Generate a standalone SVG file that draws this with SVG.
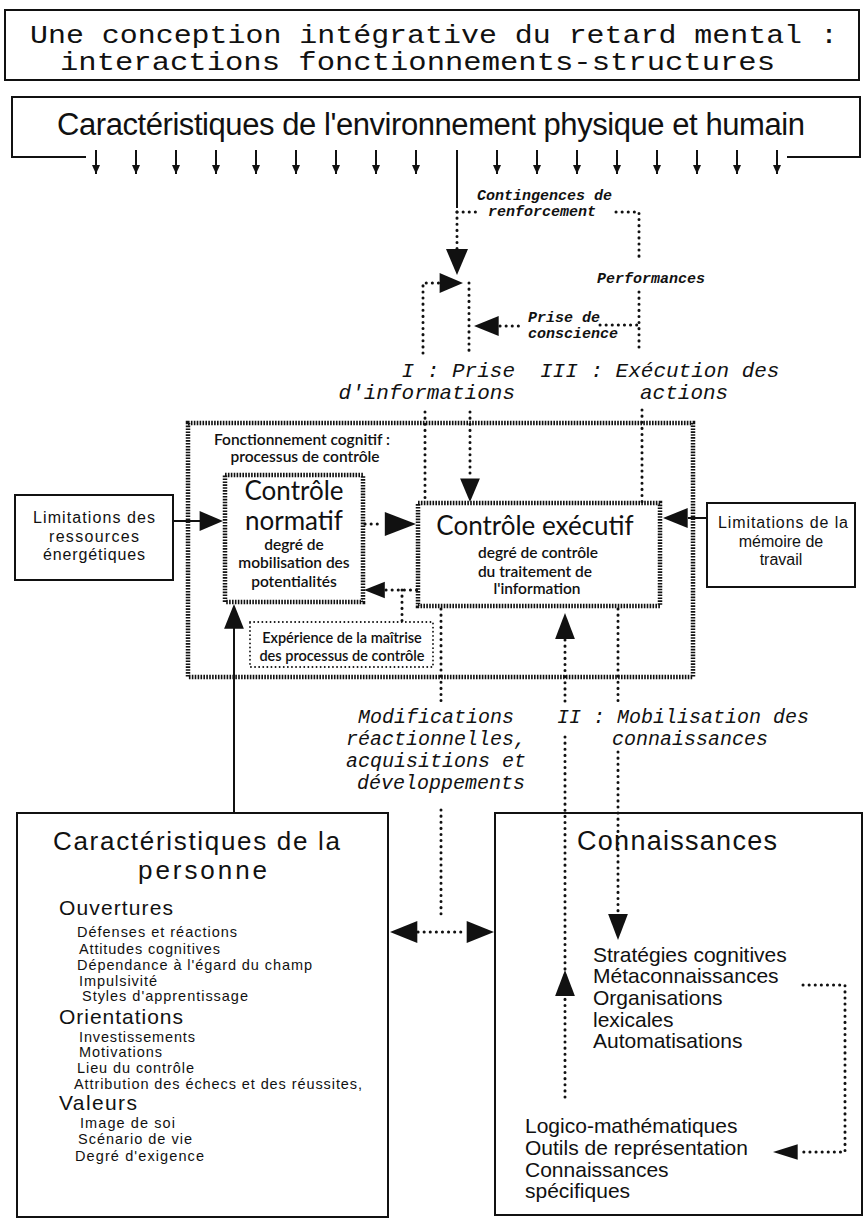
<svg xmlns="http://www.w3.org/2000/svg" xmlns:xlink="http://www.w3.org/1999/xlink" width="866" height="1225" viewBox="0 0 866 1225">
<style>
.box{fill:none;stroke:#111;stroke-width:2}
.hatch{fill:none;stroke:#111;stroke-width:4.5;stroke-dasharray:1.6 1.3}
.dot{fill:none;stroke:#111;stroke-width:3;stroke-linecap:round;stroke-dasharray:0.1 6}
.tdot{fill:none;stroke:#111;stroke-width:1.8;stroke-linecap:round;stroke-dasharray:0.1 4}
.solid{fill:none;stroke:#111;stroke-width:2}
.ah{fill:#111}
.mono{font-family:"Liberation Mono",monospace;fill:#111}
.it{font-style:italic}
.bi{font-style:italic;font-weight:bold;font-size:15px}
.sans{font-family:"Liberation Sans",Arial,sans-serif;fill:#111}
.hum{font-family:Lato,"Open Sans",sans-serif;fill:#111}
.sm{font-size:15.5px;font-weight:600}
.lim{font-size:16px}
.item{font-size:14.5px}
.head{font-size:21px}
</style>
<defs>
<path id="ah" d="M0,0 L-26,-11 L-26,11 Z"/>
<marker id="sa" markerUnits="userSpaceOnUse" markerWidth="10" markerHeight="10" refX="9" refY="4" orient="auto">
<path d="M0,0 L9,4 L0,8 Z" fill="#111"/>
</marker>
</defs>
<rect width="866" height="1225" fill="#fff"/>

<g id="title">
<rect class="box" x="5" y="10" width="854" height="70" stroke-width="1.5"/>
<text class="mono" x="30" y="43" font-size="25" textLength="808" lengthAdjust="spacingAndGlyphs">Une conception intégrative du retard mental :</text>
<text class="mono" x="60" y="70" font-size="25" textLength="715" lengthAdjust="spacingAndGlyphs">interactions fonctionnements-structures</text>
</g>

<g id="environnement">
<path class="box" d="M86 157 H12 V97 H860 V157 H787"/>
<text class="sans" x="57" y="135" font-size="31" textLength="748">Caractéristiques de l'environnement physique et humain</text>
</g>

<g id="controle-box">
<rect class="hatch" x="188" y="423" width="505" height="254"/>
<text class="hum sm" x="302" y="445" text-anchor="middle">Fonctionnement cognitif :</text>
<text class="hum sm" x="305" y="462" text-anchor="middle">processus de contrôle</text>
</g>

<g id="normatif">
<rect class="hatch" x="225" y="475" width="138" height="127"/>
<text class="hum" x="294" y="500" font-size="26" text-anchor="middle">Contrôle</text>
<text class="hum" x="294" y="530" font-size="26" text-anchor="middle">normatif</text>
<text class="hum sm" x="294" y="550" text-anchor="middle">degré de</text>
<text class="hum sm" x="294" y="568" text-anchor="middle">mobilisation des</text>
<text class="hum sm" x="294" y="587" text-anchor="middle">potentialités</text>
</g>

<g id="executif">
<rect class="hatch" x="418" y="503" width="242" height="103"/>
<text class="hum" x="535" y="535" font-size="26" text-anchor="middle">Contrôle exécutif</text>
<text class="hum sm" x="538" y="558" text-anchor="middle">degré de contrôle</text>
<text class="hum sm" x="535" y="577" text-anchor="middle">du traitement de</text>
<text class="hum sm" x="537" y="594" text-anchor="middle">l'information</text>
</g>

<g id="memoire">
<rect class="box" x="707" y="503" width="148" height="84"/>
<text class="sans lim" x="783" y="528" text-anchor="middle" textLength="130">Limitations de la</text>
<text class="sans lim" x="781" y="547" text-anchor="middle">mémoire de</text>
<text class="sans lim" x="781" y="565" text-anchor="middle">travail</text>
</g>

<g id="ressources">
<rect class="box" x="15" y="495" width="158" height="85"/>
<text class="sans lim" x="94" y="523" text-anchor="middle" textLength="122">Limitations des</text>
<text class="sans lim" x="94" y="542" text-anchor="middle" textLength="90">ressources</text>
<text class="sans lim" x="94" y="560" text-anchor="middle" textLength="102">énergétiques</text>
</g>

<g id="experience">
<rect class="tdot" x="250" y="622" width="183" height="45"/>
<text class="hum" x="342" y="643" font-size="14.5" font-weight="600" text-anchor="middle">Expérience de la maîtrise</text>
<text class="hum" x="342" y="661" font-size="14.5" font-weight="600" text-anchor="middle">des processus de contrôle</text>
</g>

<g id="personne">
<rect class="box" x="17" y="813" width="371" height="404"/>
<text class="sans" x="53" y="850" font-size="26" textLength="287">Caractéristiques de la</text>
<text class="sans" x="138" y="879" font-size="26" textLength="129">personne</text>
<text class="sans head" x="59" y="915" textLength="114">Ouvertures</text>
<text class="sans item" x="77" y="937" textLength="160">Défenses et réactions</text>
<text class="sans item" x="79" y="954" textLength="141">Attitudes cognitives</text>
<text class="sans item" x="77" y="970" textLength="235">Dépendance à l'égard du champ</text>
<text class="sans item" x="79" y="986" textLength="78">Impulsivité</text>
<text class="sans item" x="82" y="1001" textLength="166">Styles d'apprentissage</text>
<text class="sans head" x="59" y="1024" textLength="124">Orientations</text>
<text class="sans item" x="79" y="1042" textLength="116">Investissements</text>
<text class="sans item" x="79" y="1057" textLength="83">Motivations</text>
<text class="sans item" x="77" y="1073" textLength="117">Lieu du contrôle</text>
<text class="sans item" x="74" y="1089" textLength="288">Attribution des échecs et des réussites,</text>
<text class="sans head" x="59" y="1110" textLength="78">Valeurs</text>
<text class="sans item" x="80" y="1128" textLength="95">Image de soi</text>
<text class="sans item" x="78" y="1144" textLength="114">Scénario de vie</text>
<text class="sans item" x="75" y="1161" textLength="129">Degré d'exigence</text>
</g>

<g id="connaissances">
<rect class="box" x="495" y="813" width="367" height="402"/>
<text class="sans" x="577" y="850" font-size="27" textLength="200">Connaissances</text>
<text class="sans" x="593" y="962" font-size="21">Stratégies cognitives</text>
<text class="sans" x="593" y="983" font-size="21">Métaconnaissances</text>
<text class="sans" x="593" y="1005" font-size="21">Organisations</text>
<text class="sans" x="593" y="1027" font-size="21">lexicales</text>
<text class="sans" x="593" y="1048" font-size="21">Automatisations</text>
<text class="sans" x="525" y="1133" font-size="21">Logico-mathématiques</text>
<text class="sans" x="525" y="1155" font-size="21">Outils de représentation</text>
<text class="sans" x="525" y="1177" font-size="21">Connaissances</text>
<text class="sans" x="525" y="1198" font-size="21">spécifiques</text>
</g>

<g id="labels">
<text class="mono bi" x="477" y="200">Contingences de</text>
<text class="mono bi" x="488" y="216">renforcement</text>
<text class="mono bi" x="597" y="283">Performances</text>
<text class="mono bi" x="528" y="322">Prise de</text>
<text class="mono bi" x="528" y="338">conscience</text>
<text class="mono it" x="515" y="377" font-size="21" text-anchor="end">I : Prise</text>
<text class="mono it" x="515" y="399" font-size="21" text-anchor="end">d'informations</text>
<text class="mono it" x="540" y="377" font-size="21">III : Exécution des</text>
<text class="mono it" x="640" y="399" font-size="21">actions</text>
<text class="mono it" x="436" y="723" font-size="20" text-anchor="middle">Modifications</text>
<text class="mono it" x="436" y="745" font-size="20" text-anchor="middle">réactionnelles,</text>
<text class="mono it" x="436" y="767" font-size="20" text-anchor="middle">acquisitions et</text>
<text class="mono it" x="441" y="789" font-size="20" text-anchor="middle">développements</text>
<text class="mono it" x="683" y="723" font-size="20" text-anchor="middle">II : Mobilisation des</text>
<text class="mono it" x="690" y="745" font-size="20" text-anchor="middle">connaissances</text>
</g>

<g id="connectors">
<g class="solid" marker-end="url(#sa)">
<line x1="96" y1="150" x2="96" y2="174"/>
<line x1="136" y1="150" x2="136" y2="174"/>
<line x1="176" y1="150" x2="176" y2="174"/>
<line x1="216" y1="150" x2="216" y2="174"/>
<line x1="256" y1="150" x2="256" y2="174"/>
<line x1="296" y1="150" x2="296" y2="174"/>
<line x1="336" y1="150" x2="336" y2="174"/>
<line x1="376" y1="150" x2="376" y2="174"/>
<line x1="416" y1="150" x2="416" y2="174"/>
<line x1="497" y1="150" x2="497" y2="174"/>
<line x1="537" y1="150" x2="537" y2="174"/>
<line x1="577" y1="150" x2="577" y2="174"/>
<line x1="617" y1="150" x2="617" y2="174"/>
<line x1="657" y1="150" x2="657" y2="174"/>
<line x1="697" y1="150" x2="697" y2="174"/>
<line x1="737" y1="150" x2="737" y2="174"/>
<line x1="777" y1="150" x2="777" y2="174"/>
</g>
<line class="solid" x1="457" y1="150" x2="457" y2="208"/>
<path class="dot" d="M457 212 V250"/>
<use xlink:href="#ah" class="ah" transform="translate(457,275) rotate(90)"/>
<path class="dot" d="M457 212 H476 M616 212 H639 V262 M639 292 V352 M600 325 H639 M500 326 H522"/>
<use xlink:href="#ah" class="ah" transform="translate(474,326) rotate(180) scale(0.95,0.9)"/>
<path class="dot" d="M423 353 V283 H440 M469 283 V353"/>
<use xlink:href="#ah" class="ah" transform="translate(463,283) scale(0.9,0.9)"/>
<path class="dot" d="M425 412 V503 M470 412 V478 M642 410 V503"/>
<use xlink:href="#ah" class="ah" transform="translate(470,502) rotate(90) scale(0.9,0.9)"/>
<line class="solid" x1="173" y1="521" x2="200" y2="521"/>
<use xlink:href="#ah" class="ah" transform="translate(223,521) scale(0.9,0.9)"/>
<line class="solid" x1="707" y1="518" x2="688" y2="518"/>
<use xlink:href="#ah" class="ah" transform="translate(663,518) rotate(180) scale(0.95,0.9)"/>
<path class="dot" d="M365 524 H383"/>
<use xlink:href="#ah" class="ah" transform="translate(416,524) scale(1.2,1.1)"/>
<path class="dot" d="M386 590 H418 M402 590 V621"/>
<use xlink:href="#ah" class="ah" transform="translate(364,590) rotate(180) scale(0.8,0.75)"/>
<line class="solid" x1="234" y1="813" x2="234" y2="628"/>
<use xlink:href="#ah" class="ah" transform="translate(234,604) rotate(-90) scale(0.95,0.9)"/>
<path class="dot" d="M441 609 V703 M441 810 V918 M418 932 H466"/>
<use xlink:href="#ah" class="ah" transform="translate(390,932) rotate(180) scale(1.05,1)"/>
<use xlink:href="#ah" class="ah" transform="translate(494,932) scale(1.05,1)"/>
<path class="dot" d="M565 640 V705 M565 737 V1102"/>
<use xlink:href="#ah" class="ah" transform="translate(565,613) rotate(-90) scale(1,0.9)"/>
<use xlink:href="#ah" class="ah" transform="translate(565,970) rotate(-90) scale(1,0.9)"/>
<path class="dot" d="M618 609 V703 M618 752 V915"/>
<use xlink:href="#ah" class="ah" transform="translate(618,940) rotate(90) scale(1,0.9)"/>
<path class="dot" d="M803 985 H845 V1152 H798"/>
<use xlink:href="#ah" class="ah" transform="translate(773,1152) rotate(180) scale(0.95,0.7)"/>
</g>
</svg>
